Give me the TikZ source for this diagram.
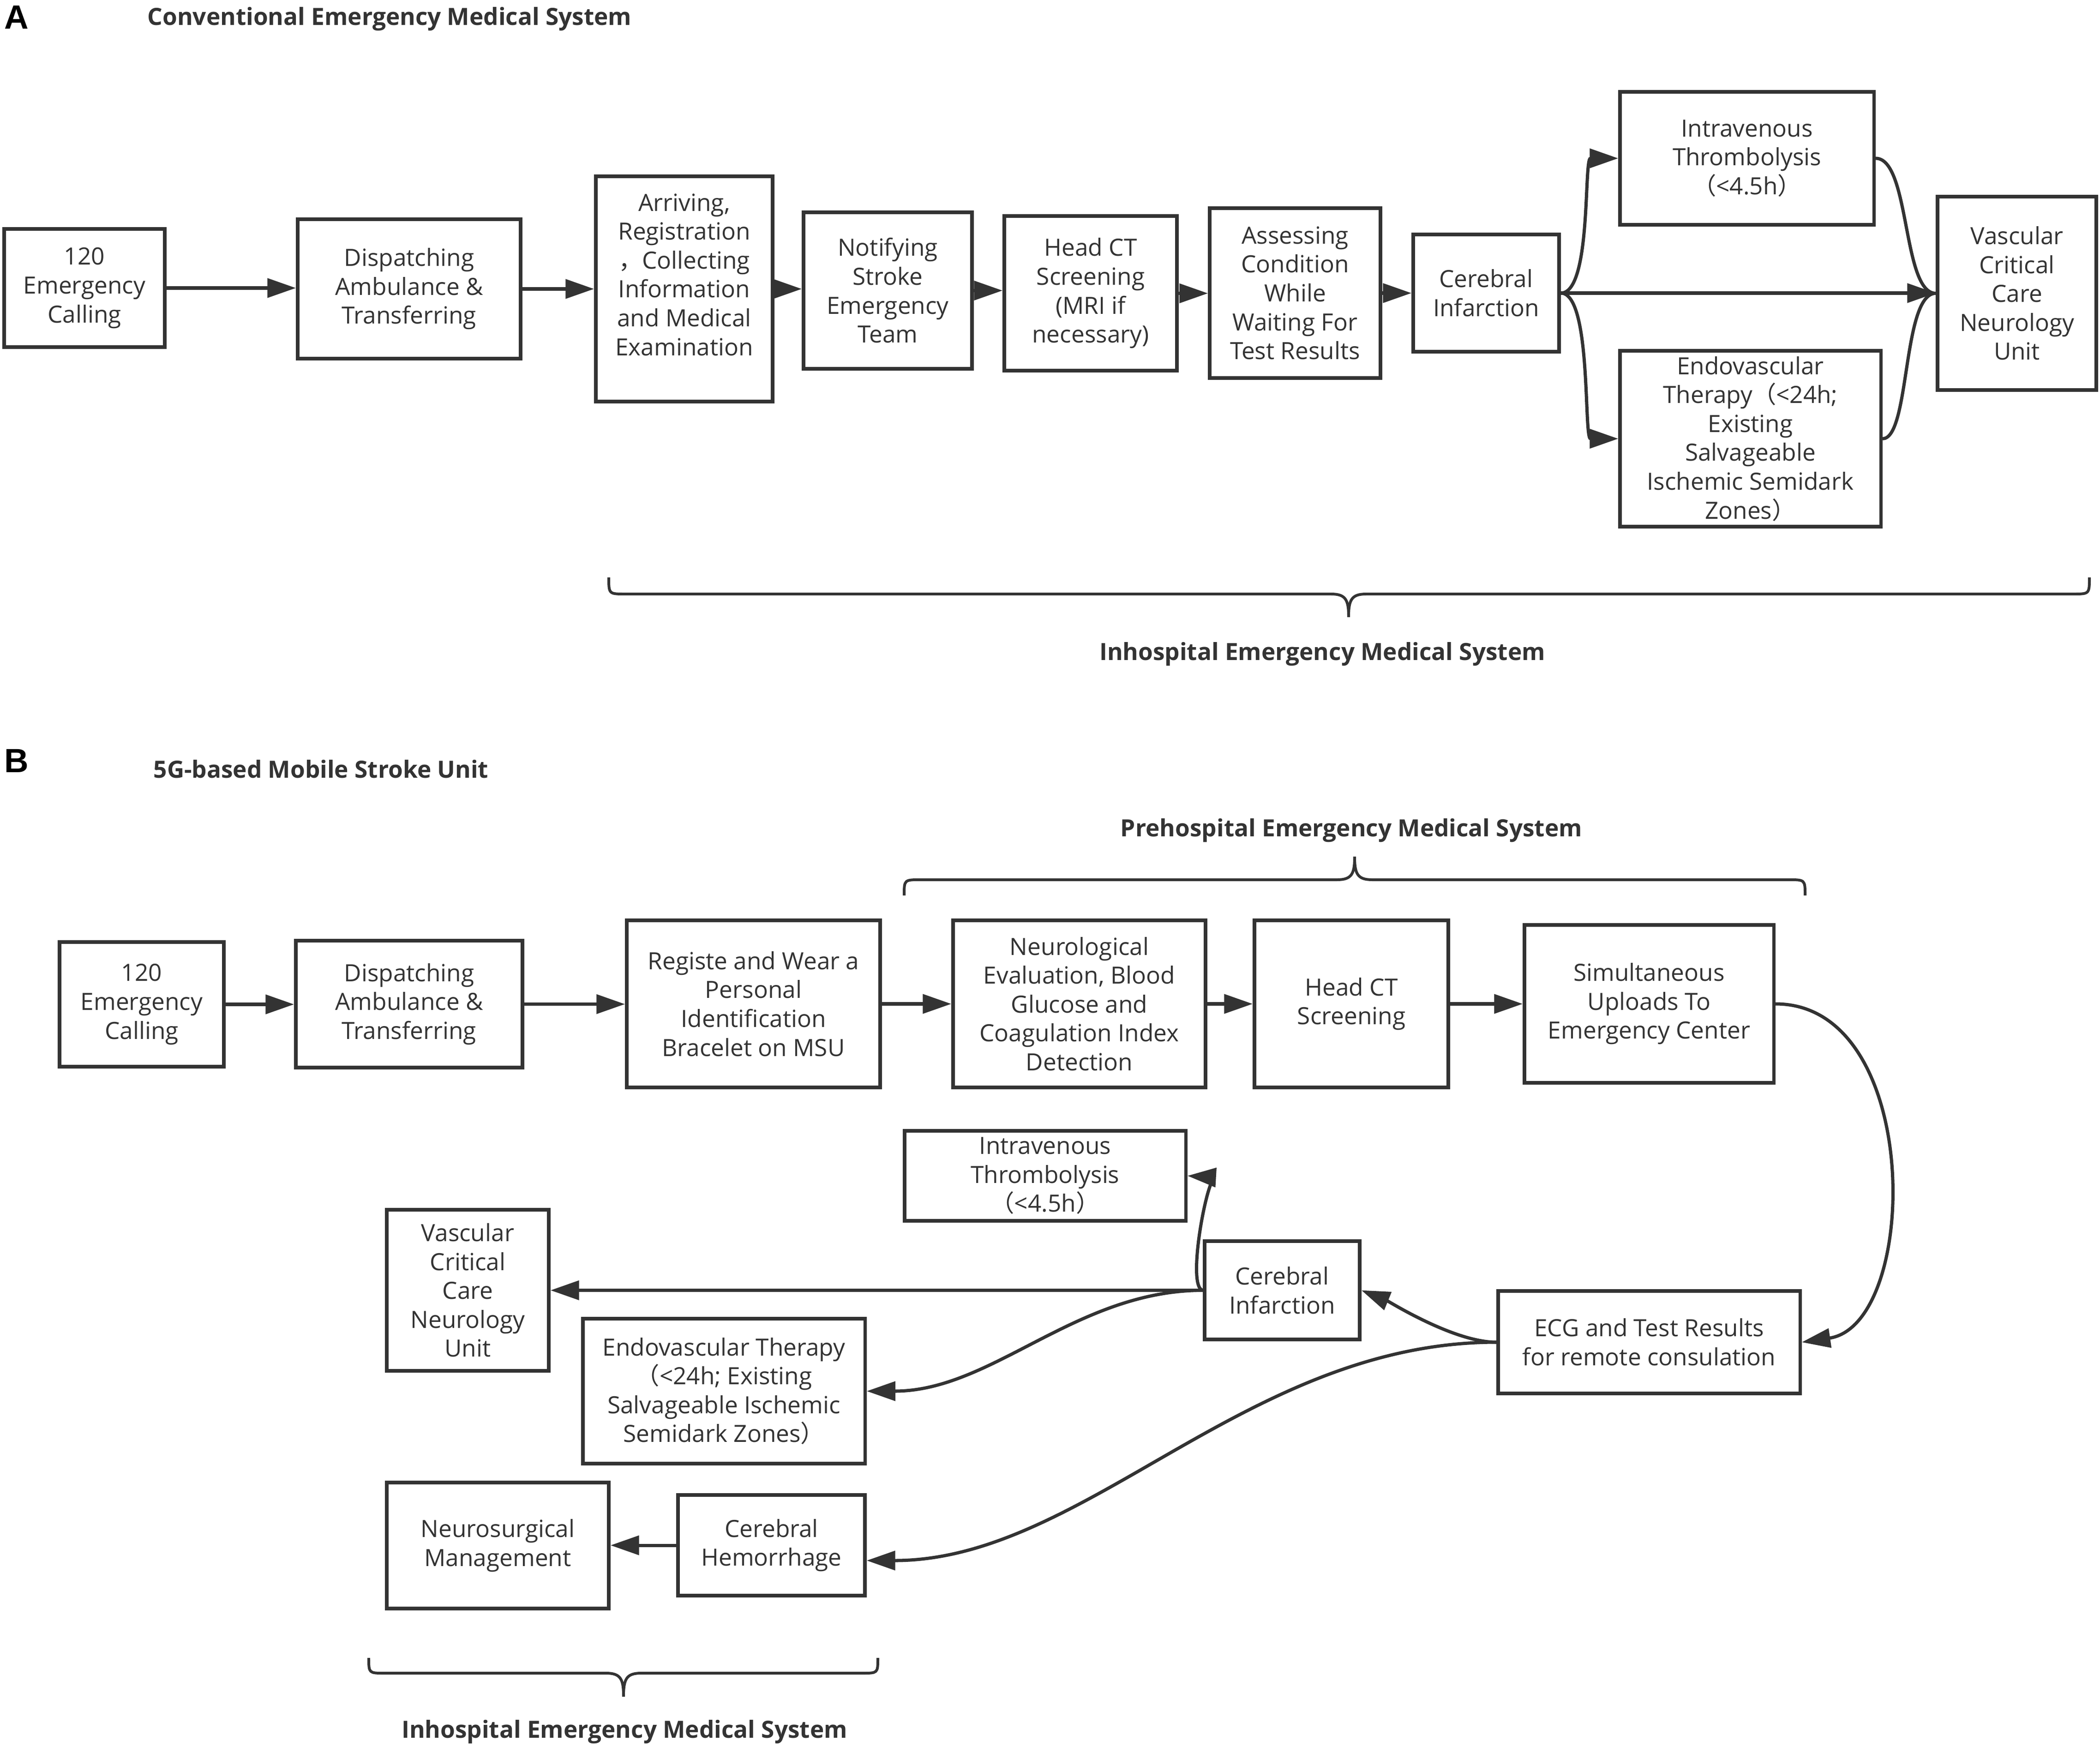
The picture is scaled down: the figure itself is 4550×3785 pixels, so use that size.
\documentclass[tikz,border=0pt]{standalone}
\usepackage{fontspec}
\setmainfont{Open Sans}
\newfontfamily\cjk{Noto Sans CJK SC}
\newfontfamily\letfont{Liberation Sans}
\usetikzlibrary{arrows.meta}
\definecolor{lc}{HTML}{333333}
\newcommand{\fwl}{{\cjk （}}
\newcommand{\fwr}{{\cjk ）}}
\newcommand{\fwc}{{\cjk ，}}
\begin{document}
\begin{tikzpicture}[x=0.01cm,y=-0.01cm,
  box/.style={draw=lc, line width=2.1pt, inner sep=0pt, align=center, text=lc,
    font=\fontsize{14.6pt}{17.8pt}\selectfont,
    execute at begin node={\rule{0pt}{0.57cm}}},
  con/.style={draw=lc, line width=2pt},
  arr/.style={con, -{Triangle[length=17.6pt,width=11.7pt]}},
  brc/.style={draw=lc, line width=1.7pt},
  ttl/.style={inner sep=0pt, text=lc, font=\fontsize{14.6pt}{17.8pt}\selectfont\bfseries},
  lett/.style={inner sep=0pt, text=black, font=\fontsize{20.7pt}{24pt}\selectfont\letfont\bfseries}]
\useasboundingbox (0,0) rectangle (4550,3785);

% ---------- titles ----------
\node[lett] (labA) at (36,37) {A};
\node[ttl, anchor=base west] (titA) at (319,55) {Conventional Emergency Medical System};
\node[ttl, anchor=base] (inA) at (2865,1430) {Inhospital Emergency Medical System};
\node[lett] (labB) at (36,1648) {B};
\node[ttl, anchor=base west] (titB) at (332,1685) {5G-based Mobile Stroke Unit};
\node[ttl, anchor=base] (preB) at (2928,1812) {Prehospital Emergency Medical System};
\node[ttl, anchor=base] (inB) at (1353,3765) {Inhospital Emergency Medical System};

% ---------- section A ----------
\node[box, minimum width=3.48cm, minimum height=2.56cm] (a1) at (183,624) {120\\Emergency\\Calling};
\node[box, minimum width=4.83cm, minimum height=3.02cm] (a2) at (886.5,626) {Dispatching\\Ambulance \&\\Transferring};
\node[box, minimum width=3.83cm, minimum height=4.88cm] (a3) at (1482.5,626) {Arriving,\\Registration\\\fwc Collecting\\Information\\and Medical\\Examination\\\mbox{}};
\node[box, minimum width=3.65cm, minimum height=3.39cm] (a4) at (1923.5,629.5) {Notifying\\Stroke\\Emergency\\Team};
\node[box, minimum width=3.74cm, minimum height=3.35cm] (a5) at (2363,635.5) {Head CT\\Screening\\(MRI if\\necessary)};
\node[box, minimum width=3.70cm, minimum height=3.68cm] (a6) at (2806,635) {Assessing\\Condition\\While\\Waiting For\\Test Results};
\node[box, minimum width=3.16cm, minimum height=2.54cm] (a7) at (3220,635) {Cerebral\\Infarction};
\node[box, minimum width=5.50cm, minimum height=2.88cm] (a8) at (3785,343) {Intravenous\\Thrombolysis\\\fwl<4.5h\fwr};
\node[box, minimum width=5.65cm, minimum height=3.81cm] (a9) at (3792.5,950.5) {Endovascular\\Therapy\fwl<24h;\\Existing\\Salvageable\\Ischemic Semidark\\Zones\fwr};
\node[box, minimum width=3.44cm, minimum height=4.19cm] (a10) at (4370,635.5) {Vascular\\Critical\\Care\\Neurology\\Unit};

\draw[arr] (a1.east) -- (a1.east -| a2.west);
\draw[arr] (a2.east) -- (a2.east -| a3.west);
\draw[arr] (a3.east) -- (a3.east -| a4.west);
\draw[arr] (a4.east) -- (a4.east -| a5.west);
\draw[arr] (a5.east) -- (a5.east -| a6.west);
\draw[arr] (a6.east) -- (a6.east -| a7.west);
\draw[arr] (a7.east) .. controls +(67,0) and +(-75,0) .. (a8.west);
\draw[arr] (a7.east) .. controls +(67,0) and +(-75,0) .. (a9.west);
\draw[con] (a8.east) .. controls +(75,0) and +(-73,0) .. (a10.west);
\draw[con] (a9.east) .. controls +(60,0) and +(-73,0) .. (a10.west);
\draw[arr] (a7.east) -- (a7.east -| a10.west);

% brace A (tip down)
\draw[brc] (1319,1251) .. controls (1319,1287) and (1319,1287) .. (1355,1287)
  -- (2884,1287) .. controls (2916,1287) and (2922,1300) .. (2922,1337)
  .. controls (2922,1300) and (2928,1287) .. (2960,1287)
  -- (4491,1287) .. controls (4527,1287) and (4527,1287) .. (4527,1251);

% ---------- section B ----------
\node[box, minimum width=3.56cm, minimum height=2.70cm] (b1) at (307,2176) {120\\Emergency\\Calling};
\node[box, minimum width=4.91cm, minimum height=2.75cm] (b2) at (886.5,2175.5) {Dispatching\\Ambulance \&\\Transferring};
\node[box, minimum width=5.49cm, minimum height=3.62cm] (b3) at (1632.5,2175) {Registe and Wear a\\Personal\\Identification\\Bracelet on MSU};
\node[box, minimum width=5.47cm, minimum height=3.62cm] (b4) at (2338.5,2175) {Neurological\\Evaluation, Blood\\Glucose and\\Coagulation Index\\Detection};
\node[box, minimum width=4.20cm, minimum height=3.62cm] (b5) at (2928,2175) {Head CT\\Screening};
\node[box, minimum width=5.40cm, minimum height=3.42cm] (b6) at (3573,2175) {Simultaneous\\Uploads To\\Emergency Center};
\node[box, minimum width=6.54cm, minimum height=2.22cm] (b7) at (3573,2908) {ECG and Test Results\\for remote consulation};
\node[box, minimum width=6.09cm, minimum height=1.95cm] (b8) at (2264.5,2547.5) {Intravenous\\Thrombolysis\\\fwl<4.5h\fwr};
\node[box, minimum width=3.36cm, minimum height=2.13cm] (b9) at (2778,2795.5) {Cerebral\\Infarction};
\node[box, minimum width=3.51cm, minimum height=3.49cm] (b10) at (1013.5,2795.5) {Vascular\\Critical\\Care\\Neurology\\Unit};
\node[box, minimum width=6.11cm, minimum height=3.14cm] (b11) at (1568.5,3014) {Endovascular Therapy\\\fwl<24h; Existing\\Salvageable Ischemic\\Semidark Zones\fwr};
\node[box, minimum width=4.81cm, minimum height=2.73cm] (b12) at (1078.5,3348.5) {Neurosurgical\\Management};
\node[box, minimum width=4.05cm, minimum height=2.18cm] (b13) at (1671.5,3348) {Cerebral\\Hemorrhage};

\draw[arr] (b1.east) -- (b1.east -| b2.west);
\draw[arr] (b2.east) -- (b2.east -| b3.west);
\draw[arr] (b3.east) -- (b3.east -| b4.west);
\draw[arr] (b4.east) -- (b4.east -| b5.west);
\draw[arr] (b5.east) -- (b5.east -| b6.west);
\draw[arr] (b6.east) .. controls (4168,2175) and (4160,2870) .. (b7.east);
\draw[arr] (b7.west) .. controls (3150,2908) and (3010,2820) .. (b9.east);
\draw[arr] (b7.west) .. controls (2700,2908) and (2350,3381) .. ([yshift=-0.33cm]b13.east);
\draw[arr] (b9.west) .. controls (2570,2790) and (2615,2550) .. (b8.east);
\draw[arr] (b9.west) .. controls (2330,2796) and (2150,3014) .. (b11.east);
\draw[arr] (b9.west) -- (b9.west -| b10.east);
\draw[arr] (b13.west) -- (b13.west -| b12.east);

% brace prehospital (tip up)
\draw[brc] (1959,1940) .. controls (1959,1906) and (1959,1906) .. (1995,1906)
  -- (2897,1906) .. controls (2929,1906) and (2935,1893) .. (2935,1856)
  .. controls (2935,1893) and (2941,1906) .. (2973,1906)
  -- (3875,1906) .. controls (3911,1906) and (3911,1906) .. (3911,1940);

% brace inhospital B (tip down)
\draw[brc] (799,3592) .. controls (799,3625) and (799,3625) .. (833,3625)
  -- (1313,3625) .. controls (1345,3625) and (1351,3638) .. (1351,3676)
  .. controls (1351,3638) and (1357,3625) .. (1389,3625)
  -- (1868,3625) .. controls (1902,3625) and (1902,3625) .. (1902,3592);
\end{tikzpicture}
\end{document}
